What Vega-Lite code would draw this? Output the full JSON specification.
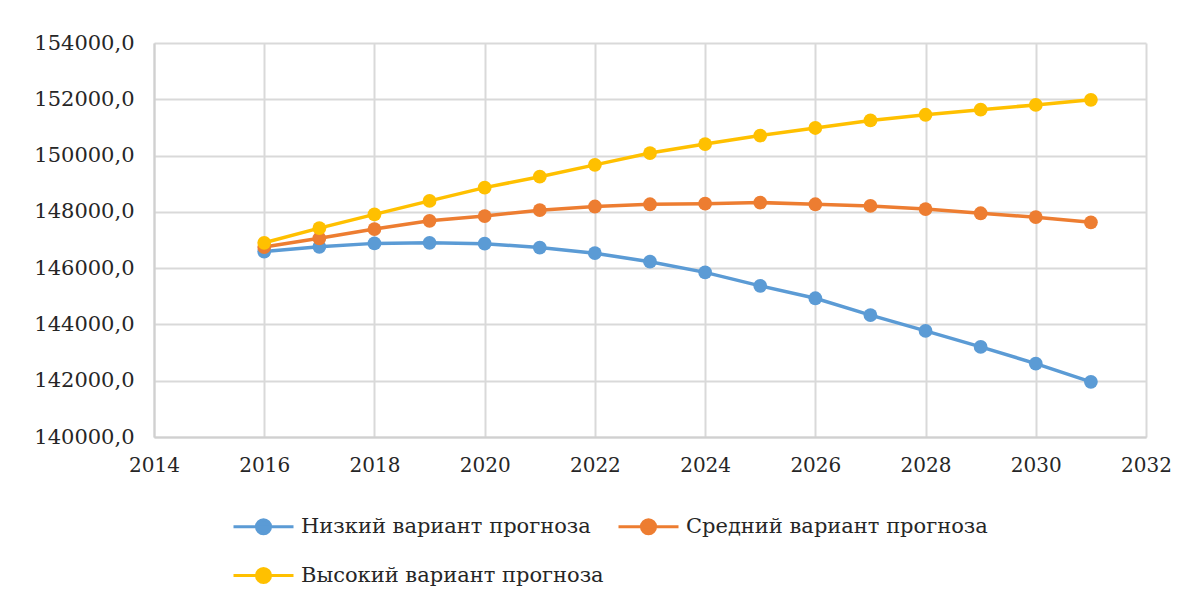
{
  "$schema": "https://vega.github.io/schema/vega-lite/v6.json",
  "width": 992,
  "height": 394,
  "autosize": {"type": "none"},
  "padding": {"left": 154, "top": 43, "right": 46, "bottom": 167},
  "background": "white",
  "config": {
    "view": {"stroke": null},
    "font": "DejaVu Serif"
  },
  "data": {
    "values": [
      {"year": 2016, "series": "Низкий вариант прогноза", "value": 146590},
      {"year": 2017, "series": "Низкий вариант прогноза", "value": 146760},
      {"year": 2018, "series": "Низкий вариант прогноза", "value": 146880},
      {"year": 2019, "series": "Низкий вариант прогноза", "value": 146900},
      {"year": 2020, "series": "Низкий вариант прогноза", "value": 146870},
      {"year": 2021, "series": "Низкий вариант прогноза", "value": 146730},
      {"year": 2022, "series": "Низкий вариант прогноза", "value": 146530},
      {"year": 2023, "series": "Низкий вариант прогноза", "value": 146230},
      {"year": 2024, "series": "Низкий вариант прогноза", "value": 145850},
      {"year": 2025, "series": "Низкий вариант прогноза", "value": 145370},
      {"year": 2026, "series": "Низкий вариант прогноза", "value": 144930},
      {"year": 2027, "series": "Низкий вариант прогноза", "value": 144330},
      {"year": 2028, "series": "Низкий вариант прогноза", "value": 143770},
      {"year": 2029, "series": "Низкий вариант прогноза", "value": 143200},
      {"year": 2030, "series": "Низкий вариант прогноза", "value": 142610},
      {"year": 2031, "series": "Низкий вариант прогноза", "value": 141960},
      {"year": 2016, "series": "Средний вариант прогноза", "value": 146750},
      {"year": 2017, "series": "Средний вариант прогноза", "value": 147060},
      {"year": 2018, "series": "Средний вариант прогноза", "value": 147390},
      {"year": 2019, "series": "Средний вариант прогноза", "value": 147680},
      {"year": 2020, "series": "Средний вариант прогноза", "value": 147850},
      {"year": 2021, "series": "Средний вариант прогноза", "value": 148060},
      {"year": 2022, "series": "Средний вариант прогноза", "value": 148190},
      {"year": 2023, "series": "Средний вариант прогноза", "value": 148270},
      {"year": 2024, "series": "Средний вариант прогноза", "value": 148290},
      {"year": 2025, "series": "Средний вариант прогноза", "value": 148330},
      {"year": 2026, "series": "Средний вариант прогноза", "value": 148270},
      {"year": 2027, "series": "Средний вариант прогноза", "value": 148210},
      {"year": 2028, "series": "Средний вариант прогноза", "value": 148100},
      {"year": 2029, "series": "Средний вариант прогноза", "value": 147950},
      {"year": 2030, "series": "Средний вариант прогноза", "value": 147810},
      {"year": 2031, "series": "Средний вариант прогноза", "value": 147630},
      {"year": 2016, "series": "Высокий вариант прогноза", "value": 146900},
      {"year": 2017, "series": "Высокий вариант прогноза", "value": 147420},
      {"year": 2018, "series": "Высокий вариант прогноза", "value": 147910},
      {"year": 2019, "series": "Высокий вариант прогноза", "value": 148390},
      {"year": 2020, "series": "Высокий вариант прогноза", "value": 148860},
      {"year": 2021, "series": "Высокий вариант прогноза", "value": 149250},
      {"year": 2022, "series": "Высокий вариант прогноза", "value": 149670},
      {"year": 2023, "series": "Высокий вариант прогноза", "value": 150090},
      {"year": 2024, "series": "Высокий вариант прогноза", "value": 150410},
      {"year": 2025, "series": "Высокий вариант прогноза", "value": 150710},
      {"year": 2026, "series": "Высокий вариант прогноза", "value": 150980},
      {"year": 2027, "series": "Высокий вариант прогноза", "value": 151250},
      {"year": 2028, "series": "Высокий вариант прогноза", "value": 151450},
      {"year": 2029, "series": "Высокий вариант прогноза", "value": 151630},
      {"year": 2030, "series": "Высокий вариант прогноза", "value": 151800},
      {"year": 2031, "series": "Высокий вариант прогноза", "value": 151980}
    ]
  },
  "encoding": {
    "x": {
      "field": "year",
      "type": "quantitative",
      "scale": {"domain": [2014, 2032], "nice": false, "zero": false},
      "axis": {
        "title": null,
        "values": [2014, 2016, 2018, 2020, 2022, 2024, 2026, 2028, 2030, 2032],
        "format": "d",
        "labelFont": "DejaVu Serif",
        "labelFontSize": 20,
        "labelColor": "#262626",
        "labelPadding": 18,
        "ticks": false,
        "domainColor": "#d0d0d0",
        "domainWidth": 2,
        "gridColor": "#d9d9d9",
        "gridWidth": 2,
        "labelFlush": false
      }
    },
    "y": {
      "field": "value",
      "type": "quantitative",
      "scale": {"domain": [140000, 154000], "nice": false, "zero": false},
      "axis": {
        "title": null,
        "values": [140000, 142000, 144000, 146000, 148000, 150000, 152000, 154000],
        "labelExpr": "replace(format(datum.value, '.1f'), '.', ',')",
        "labelFont": "DejaVu Serif",
        "labelFontSize": 21,
        "labelColor": "#262626",
        "labelPadding": 20,
        "ticks": false,
        "domainColor": "#d0d0d0",
        "domainWidth": 2,
        "gridColor": "#d9d9d9",
        "gridWidth": 2
      }
    },
    "color": {
      "field": "series",
      "type": "nominal",
      "sort": ["Низкий вариант прогноза", "Средний вариант прогноза", "Высокий вариант прогноза"],
      "scale": {
        "domain": ["Низкий вариант прогноза", "Средний вариант прогноза", "Высокий вариант прогноза"],
        "range": ["#5B9BD5", "#ED7D31", "#FFC000"]
      },
      "legend": {
        "title": null,
        "orient": "none",
        "legendX": 78,
        "legendY": 467,
        "direction": "horizontal",
        "columns": 2,
        "columnPadding": 8,
        "rowPadding": 19,
        "labelFont": "DejaVu Serif",
        "labelFontSize": 21,
        "labelColor": "#262626",
        "labelLimit": 400,
        "labelOffset": 36,
        "symbolType": "M-1,0L3,0M1.47,0A0.47,0.47,0,1,1,0.53,0A0.47,0.47,0,1,1,1.47,0Z",
        "symbolSize": 900,
        "symbolStrokeWidth": 3,
        "symbolOpacity": 1
      }
    }
  },
  "layer": [
    {
      "mark": {"type": "line", "strokeWidth": 3.5},
      "encoding": {"order": {"field": "year"}}
    },
    {
      "mark": {"type": "point", "filled": true, "size": 190, "opacity": 1, "shape": "circle"}
    }
  ]
}
